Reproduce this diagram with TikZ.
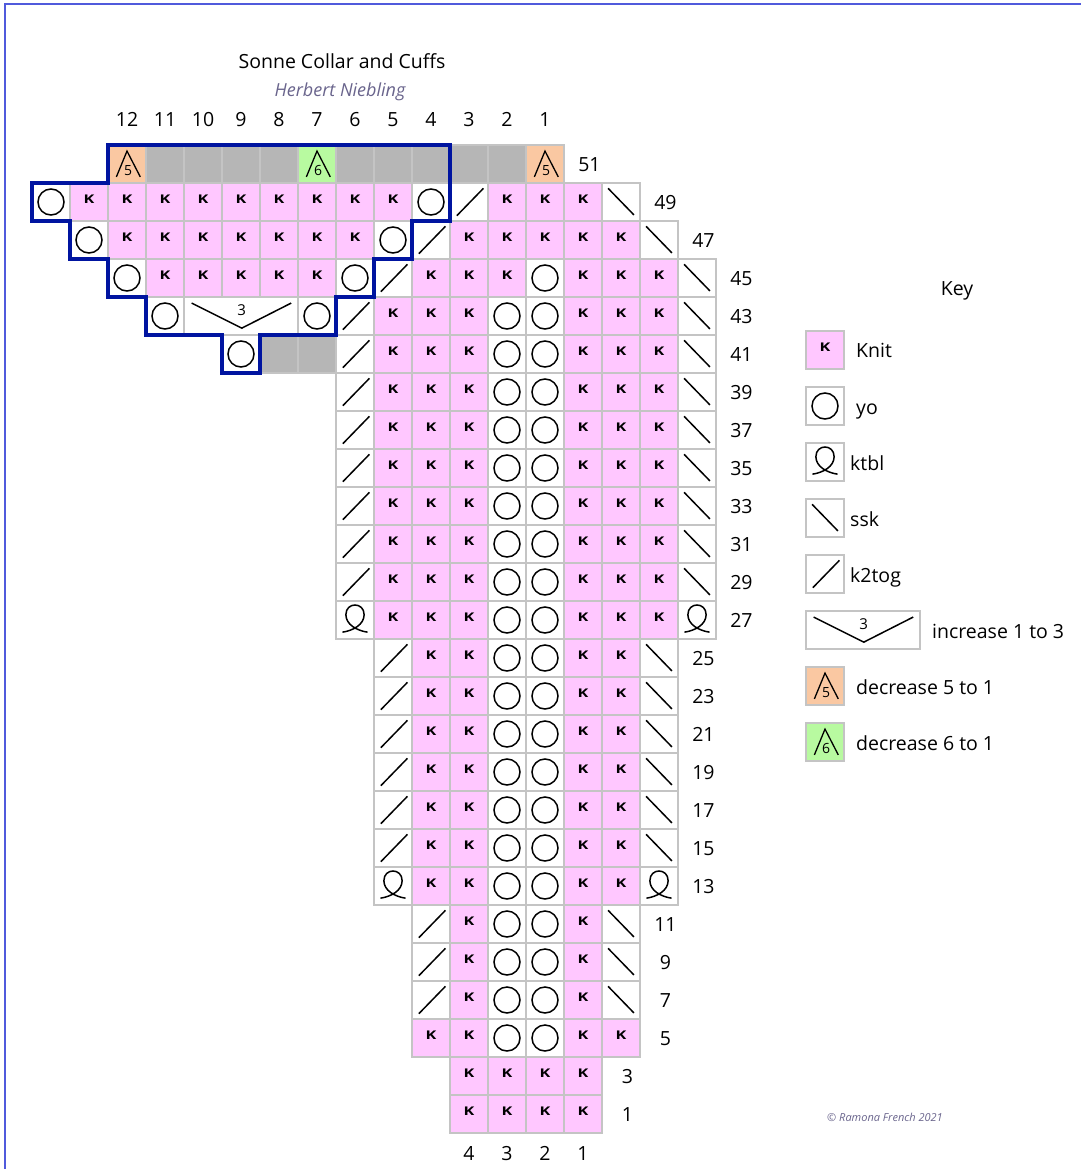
\documentclass[tikz,border=0pt]{standalone}
\usepackage{fontspec}
\setmainfont{Open Sans}

\definecolor{knitpink}{RGB}{255,199,255}
\definecolor{gridgray}{RGB}{196,196,196}
\definecolor{nostitch}{RGB}{182,182,182}
\definecolor{decorange}{RGB}{250,200,162}
\definecolor{decgreen}{RGB}{184,250,160}
\definecolor{edgeblue}{RGB}{0,20,160}
\definecolor{pageblue}{RGB}{80,90,220}
\definecolor{signcol}{RGB}{105,100,140}

\tikzset{
  cellline/.style={draw=gridgray, line width=1.5pt},
  symline/.style={black, line width=1.5pt},
  kmark/.style={font=\fontsize{12}{12}\selectfont\bfseries, inner sep=0pt},
  decnum/.style={font=\fontsize{14}{14}\selectfont, inner sep=0pt},
  numlbl/.style={font=\fontsize{19.5}{22}\selectfont, inner sep=0pt, text height=14pt, text depth=0pt},
  keylbl/.style={numlbl, anchor=west},
  signtxt/.style={signcol, font=\fontsize{18}{20}\selectfont\itshape, inner sep=0pt},
}

% one chart cell each, (#1,#2) = column and row of its top left corner
\newcommand{\cellbox}[3]{\draw[cellline, fill=#3] (#1,#2) rectangle ++(1,1);}
\newcommand{\cellK}[2]{\cellbox{#1}{#2}{knitpink}
  \node[kmark] (k#1-#2) at (#1+0.5,#2+0.42) {\scalebox{1.35}[1]{K}};}
\newcommand{\cellO}[2]{\cellbox{#1}{#2}{white}
  \draw[symline] (#1+0.5,#2+0.5) circle[radius=13pt];}
\newcommand{\cellR}[2]{\cellbox{#1}{#2}{white}
  \draw[symline] (#1+0.18,#2+0.86) -- (#1+0.88,#2+0.14);}
\newcommand{\cellL}[2]{\cellbox{#1}{#2}{white}
  \draw[symline] (#1+0.16,#2+0.14) -- (#1+0.84,#2+0.84);}
\newcommand{\cellQ}[2]{\cellbox{#1}{#2}{white}
  \draw[symline] (#1+0.17,#2+0.82) .. controls (#1+0.45,#2+0.78) and (#1+0.74,#2+0.62) .. (#1+0.74,#2+0.36)
    .. controls (#1+0.74,#2+0.02) and (#1+0.26,#2+0.02) .. (#1+0.26,#2+0.36)
    .. controls (#1+0.26,#2+0.62) and (#1+0.55,#2+0.78) .. (#1+0.83,#2+0.82);}
\newcommand{\cellG}[2]{\cellbox{#1}{#2}{nostitch}}
\newcommand{\cellF}[2]{\cellbox{#1}{#2}{decorange}
  \draw[symline, line width=1.3pt] (#1+0.22,#2+0.84) -- (#1+0.5,#2+0.16) -- (#1+0.85,#2+0.84);
  \node[decnum] (d#1-#2) at (#1+0.53,#2+0.68) {5};}
\newcommand{\cellS}[2]{\cellbox{#1}{#2}{decgreen}
  \draw[symline, line width=1.3pt] (#1+0.22,#2+0.84) -- (#1+0.5,#2+0.16) -- (#1+0.85,#2+0.84);
  \node[decnum] (d#1-#2) at (#1+0.53,#2+0.68) {6};}
\newcommand{\cellI}[2]{\draw[cellline, fill=white] (#1,#2) rectangle ++(3,1);
  \draw[symline] (#1+0.2,#2+0.16) -- (#1+1.52,#2+0.82) -- (#1+2.82,#2+0.16);
  \node[decnum, font=\fontsize{15}{15}\selectfont] (i#1-#2) at (#1+1.52,#2+0.34) {3};}

% a row: list of first/last/kind
\newcommand{\chartrow}[2]{\foreach \lo/\hi/\kind in {#2}
  {\foreach \i in {\lo,...,\hi} {\csname cell\kind\endcsname{\i}{#1}}}}

\begin{document}
\begin{tikzpicture}[x=1pt,y=-1pt]
  \useasboundingbox (0,0) rectangle (1081,1169);
  % page frame
  \draw[pageblue, line width=2pt] (5,1169) -- (5,4) -- (1081,4);

  % heading
  \node[numlbl] (title) at (342,62) {Sonne Collar and Cuffs};
  \node[signtxt] (designer) at (340,92) {Herbert Niebling};

  % chart, one unit = one stitch
  \begin{scope}[shift={(32,145)}, x=38pt, y=-38pt]
    \chartrow{0}{2/2/F,3/6/G,7/7/S,8/12/G,13/13/F}
    \chartrow{1}{0/0/O,1/9/K,10/10/O,11/11/R,12/14/K,15/15/L}
    \chartrow{2}{1/1/O,2/8/K,9/9/O,10/10/R,11/15/K,16/16/L}
    \chartrow{3}{2/2/O,3/7/K,8/8/O,9/9/R,10/12/K,13/13/O,14/16/K,17/17/L}
    \chartrow{4}{3/3/O,4/4/I,7/7/O,8/8/R,9/11/K,12/13/O,14/16/K,17/17/L}
    \chartrow{5}{5/5/O,6/7/G,8/8/R,9/11/K,12/13/O,14/16/K,17/17/L}
    \foreach \r in {6,...,11}
      {\chartrow{\r}{8/8/R,9/11/K,12/13/O,14/16/K,17/17/L}}
    \chartrow{12}{8/8/Q,9/11/K,12/13/O,14/16/K,17/17/Q}
    \foreach \r in {13,...,18}
      {\chartrow{\r}{9/9/R,10/11/K,12/13/O,14/15/K,16/16/L}}
    \chartrow{19}{9/9/Q,10/11/K,12/13/O,14/15/K,16/16/Q}
    \foreach \r in {20,...,22}
      {\chartrow{\r}{10/10/R,11/11/K,12/13/O,14/14/K,15/15/L}}
    \chartrow{23}{10/11/K,12/13/O,14/15/K}
    \chartrow{24}{11/14/K}
    \chartrow{25}{11/14/K}

    % collar outline
    \draw[edgeblue, line width=3.5pt, line join=miter] (2,0) -- (11,0) -- (11,2) -- (10,2) -- (10,3)
      -- (9,3) -- (9,4) -- (8,4) -- (8,5) -- (6,5) -- (6,6) -- (5,6) -- (5,5) -- (3,5) -- (3,4)
      -- (2,4) -- (2,3) -- (1,3) -- (1,2) -- (0,2) -- (0,1) -- (2,1) -- cycle;

    % row numbers
    \foreach \n/\r/\e in {51/0/14,49/1/16,47/2/17,45/3/18,43/4/18,41/5/18,39/6/18,37/7/18,
        35/8/18,33/9/18,31/10/18,29/11/18,27/12/18,25/13/17,23/14/17,21/15/17,19/16/17,
        17/17/17,15/18/17,13/19/17,11/20/16,9/21/16,7/22/16,5/23/16,3/24/15,1/25/15}
      {\node[numlbl] (row\n) at (\e+0.67,\r+0.52) {\n};}
    % stitch numbers
    \foreach \c in {1,...,12}
      {\node[numlbl] (top\c) at (14.5-\c,-0.66) {\c};}
    \foreach \c in {1,...,4}
      {\node[numlbl] (bot\c) at (15.5-\c,26.53) {\c};}
  \end{scope}

  % key
  \node[numlbl] (keytitle) at (957,288) {Key};
  \foreach \kind/\k in {K/0,O/1,Q/2,L/3,R/4,I/5,F/6,S/7}
    {\begin{scope}[shift={(806,331+56*\k)}, x=38pt, y=-38pt]
      \csname cell\kind\endcsname{0}{0}
    \end{scope}}
  \node[keylbl] (keyknit) at (856,350) {Knit};
  \node[keylbl] (keyyo) at (856,407) {yo};
  \node[keylbl] (keyktbl) at (850,463) {ktbl};
  \node[keylbl] (keyssk) at (850,519) {ssk};
  \node[keylbl] (keyktog) at (850,575) {k2tog};
  \node[keylbl] (keyinc) at (932,631) {increase 1 to 3};
  \node[keylbl] (keydecfive) at (856,687) {decrease 5 to 1};
  \node[keylbl] (keydecsix) at (856,743) {decrease 6 to 1};

  \node[signtxt, font=\fontsize{11}{13}\selectfont\itshape] (credit) at (885,1117) {© Ramona French 2021};
\end{tikzpicture}
\end{document}
